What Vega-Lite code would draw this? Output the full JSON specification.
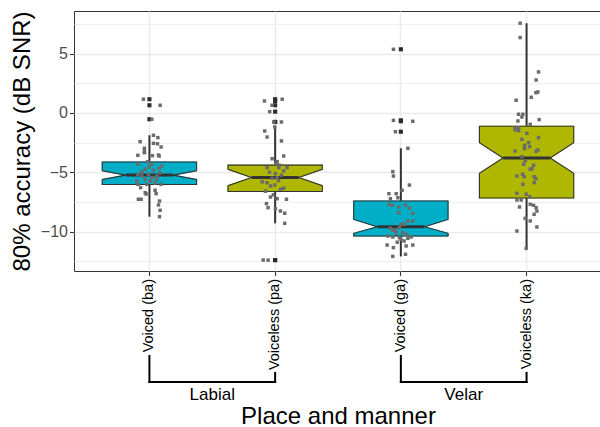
{
  "$schema": "https://vega.github.io/schema/vega-lite/v6.json",
  "padding": {"left": 9, "top": 10, "right": 0, "bottom": 0},
  "bounds": "flush",
  "spacing": 85,
  "config": {
    "font": "Liberation Sans",
    "view": {"stroke": null},
    "axis": {"labelFont": "Liberation Sans", "titleFont": "Liberation Sans", "titleFontWeight": "normal"}
  },
  "datasets": {
    "boxes": [
      {"c": "Voiced (ba)", "q3": -4.14, "nhi": -4.87, "med": -5.24, "nlo": -5.61, "q1": -6.03, "whi": -1.88, "wlo": -8.75},
      {"c": "Voiceless (pa)", "q3": -4.4, "nhi": -4.75, "med": -5.45, "nlo": -6.13, "q1": -6.62, "whi": -1.18, "wlo": -9.31},
      {"c": "Voiced (ga)", "q3": -7.43, "nhi": -8.98, "med": -9.6, "nlo": -10.15, "q1": -10.38, "whi": -2.98, "wlo": -12.1},
      {"c": "Voiceless (ka)", "q3": -1.12, "nhi": -2.5, "med": -3.8, "nlo": -5.08, "q1": -7.17, "whi": 7.57, "wlo": -11.42}
    ],
    "pts": [
      {"c": "Voiced (ba)", "v": 1.16, "j": -0.048}, {"c": "Voiced (ba)", "v": 0.65, "j": 0.085}, {"c": "Voiced (ba)", "v": -0.53, "j": 0.019},
      {"c": "Voiced (ba)", "v": -1.88, "j": 0.032}, {"c": "Voiced (ba)", "v": -2.08, "j": 0.067}, {"c": "Voiced (ba)", "v": -2.42, "j": -0.074},
      {"c": "Voiced (ba)", "v": -2.56, "j": 0.032}, {"c": "Voiced (ba)", "v": -2.6, "j": 0.064}, {"c": "Voiced (ba)", "v": -2.87, "j": 0.093},
      {"c": "Voiced (ba)", "v": -2.98, "j": -0.04}, {"c": "Voiced (ba)", "v": -3.26, "j": -0.04}, {"c": "Voiced (ba)", "v": -3.57, "j": -0.092},
      {"c": "Voiced (ba)", "v": -3.55, "j": 0.072}, {"c": "Voiced (ba)", "v": -3.35, "j": -0.04}, {"c": "Voiced (ba)", "v": -3.6, "j": 0.024},
      {"c": "Voiced (ba)", "v": -3.63, "j": 0.077}, {"c": "Voiced (ba)", "v": -4.33, "j": -0.092}, {"c": "Voiced (ba)", "v": -4.11, "j": -0.013},
      {"c": "Voiced (ba)", "v": -4.33, "j": 0.019}, {"c": "Voiced (ba)", "v": -4.47, "j": 0.099}, {"c": "Voiced (ba)", "v": -4.75, "j": -0.034},
      {"c": "Voiced (ba)", "v": -4.84, "j": 0.032}, {"c": "Voiced (ba)", "v": -4.67, "j": 0.077}, {"c": "Voiced (ba)", "v": -5.17, "j": -0.092},
      {"c": "Voiced (ba)", "v": -5.32, "j": -0.06}, {"c": "Voiced (ba)", "v": -5.17, "j": -0.008}, {"c": "Voiced (ba)", "v": -5.32, "j": 0.059},
      {"c": "Voiced (ba)", "v": -5.04, "j": 0.085}, {"c": "Voiced (ba)", "v": -5.74, "j": -0.1}, {"c": "Voiced (ba)", "v": -5.6, "j": -0.034},
      {"c": "Voiced (ba)", "v": -5.74, "j": 0.006}, {"c": "Voiced (ba)", "v": -5.6, "j": 0.059}, {"c": "Voiced (ba)", "v": -6.02, "j": -0.092},
      {"c": "Voiced (ba)", "v": -6.02, "j": -0.021}, {"c": "Voiced (ba)", "v": -6.02, "j": 0.093}, {"c": "Voiced (ba)", "v": -6.72, "j": -0.034},
      {"c": "Voiced (ba)", "v": -6.84, "j": -0.026}, {"c": "Voiced (ba)", "v": -6.52, "j": 0.045}, {"c": "Voiced (ba)", "v": -6.81, "j": 0.053},
      {"c": "Voiced (ba)", "v": -7.28, "j": -0.088}, {"c": "Voiced (ba)", "v": -7.28, "j": -0.066}, {"c": "Voiced (ba)", "v": -7.43, "j": 0.08},
      {"c": "Voiced (ba)", "v": -7.76, "j": 0.072}, {"c": "Voiced (ba)", "v": -8.21, "j": 0.085}, {"c": "Voiced (ba)", "v": -8.75, "j": 0.08},
      {"c": "Voiced (ba)", "v": -4.95, "j": -0.058}, {"c": "Voiced (ba)", "v": -5.45, "j": 0.021}, {"c": "Voiced (ba)", "v": -4.55, "j": -0.002},
      {"c": "Voiced (ba)", "v": -5.9, "j": 0.045}, {"c": "Voiced (ba)", "v": -6.3, "j": -0.07},

      {"c": "Voiceless (pa)", "v": 1.01, "j": -0.085}, {"c": "Voiceless (pa)", "v": 1.16, "j": 0.056}, {"c": "Voiceless (pa)", "v": 0.65, "j": -0.024},
      {"c": "Voiceless (pa)", "v": 0.11, "j": -0.043}, {"c": "Voiceless (pa)", "v": -0.76, "j": -0.011}, {"c": "Voiceless (pa)", "v": -0.76, "j": 0.05},
      {"c": "Voiceless (pa)", "v": -1.18, "j": -0.003}, {"c": "Voiceless (pa)", "v": -1.52, "j": -0.083}, {"c": "Voiceless (pa)", "v": -2.03, "j": -0.064},
      {"c": "Voiceless (pa)", "v": -2.36, "j": 0.05}, {"c": "Voiceless (pa)", "v": -3.86, "j": -0.024}, {"c": "Voiceless (pa)", "v": -3.63, "j": 0.068},
      {"c": "Voiceless (pa)", "v": -4.1, "j": 0.016}, {"c": "Voiceless (pa)", "v": -4.61, "j": -0.064}, {"c": "Voiceless (pa)", "v": -4.27, "j": 0.008},
      {"c": "Voiceless (pa)", "v": -4.61, "j": 0.029}, {"c": "Voiceless (pa)", "v": -4.89, "j": 0.068}, {"c": "Voiceless (pa)", "v": -4.61, "j": 0.095},
      {"c": "Voiceless (pa)", "v": -5.12, "j": 0.002}, {"c": "Voiceless (pa)", "v": -5.8, "j": -0.103}, {"c": "Voiceless (pa)", "v": -5.88, "j": -0.064},
      {"c": "Voiceless (pa)", "v": -5.51, "j": -0.024}, {"c": "Voiceless (pa)", "v": -5.46, "j": 0.016}, {"c": "Voiceless (pa)", "v": -6.16, "j": -0.037},
      {"c": "Voiceless (pa)", "v": -6.08, "j": -0.003}, {"c": "Voiceless (pa)", "v": -6.44, "j": 0.042}, {"c": "Voiceless (pa)", "v": -6.35, "j": 0.068},
      {"c": "Voiceless (pa)", "v": -7.09, "j": -0.037}, {"c": "Voiceless (pa)", "v": -7.23, "j": 0.016}, {"c": "Voiceless (pa)", "v": -7.28, "j": 0.09},
      {"c": "Voiceless (pa)", "v": -7.65, "j": -0.069}, {"c": "Voiceless (pa)", "v": -7.99, "j": -0.056}, {"c": "Voiceless (pa)", "v": -8.08, "j": 0.002},
      {"c": "Voiceless (pa)", "v": -8.27, "j": 0.042}, {"c": "Voiceless (pa)", "v": -8.46, "j": 0.076}, {"c": "Voiceless (pa)", "v": -9.31, "j": 0.076},
      {"c": "Voiceless (pa)", "v": -12.41, "j": -0.095}, {"c": "Voiceless (pa)", "v": -12.41, "j": -0.056}, {"c": "Voiceless (pa)", "v": -4.4, "j": 0.034},
      {"c": "Voiceless (pa)", "v": -5.0, "j": -0.045}, {"c": "Voiceless (pa)", "v": -5.7, "j": 0.026}, {"c": "Voiceless (pa)", "v": -6.6, "j": -0.077},
      {"c": "Voiceless (pa)", "v": -6.9, "j": -0.014}, {"c": "Voiceless (pa)", "v": -5.25, "j": 0.05},

      {"c": "Voiced (ga)", "v": 5.37, "j": -0.059}, {"c": "Voiced (ga)", "v": -0.62, "j": -0.059}, {"c": "Voiced (ga)", "v": -0.7, "j": 0.095},
      {"c": "Voiced (ga)", "v": -1.58, "j": -0.043}, {"c": "Voiced (ga)", "v": -2.98, "j": 0.056}, {"c": "Voiced (ga)", "v": -4.95, "j": -0.064},
      {"c": "Voiced (ga)", "v": -5.32, "j": -0.059}, {"c": "Voiced (ga)", "v": -6.08, "j": 0.068}, {"c": "Voiced (ga)", "v": -6.81, "j": -0.095},
      {"c": "Voiced (ga)", "v": -6.81, "j": -0.037}, {"c": "Voiced (ga)", "v": -6.52, "j": 0.01}, {"c": "Voiced (ga)", "v": -7.23, "j": -0.083},
      {"c": "Voiced (ga)", "v": -7.15, "j": -0.024}, {"c": "Voiced (ga)", "v": -7.7, "j": -0.095}, {"c": "Voiced (ga)", "v": -7.79, "j": -0.069},
      {"c": "Voiced (ga)", "v": -7.93, "j": -0.016}, {"c": "Voiced (ga)", "v": -8.41, "j": -0.016}, {"c": "Voiced (ga)", "v": -7.76, "j": 0.037},
      {"c": "Voiced (ga)", "v": -8.04, "j": 0.068}, {"c": "Voiced (ga)", "v": -8.46, "j": 0.095}, {"c": "Voiced (ga)", "v": -9.11, "j": 0.056},
      {"c": "Voiced (ga)", "v": -9.11, "j": 0.095}, {"c": "Voiced (ga)", "v": -9.39, "j": 0.002}, {"c": "Voiced (ga)", "v": -9.39, "j": 0.029},
      {"c": "Voiced (ga)", "v": -9.73, "j": -0.083}, {"c": "Voiced (ga)", "v": -9.87, "j": -0.064}, {"c": "Voiced (ga)", "v": -9.68, "j": -0.011},
      {"c": "Voiced (ga)", "v": -10.1, "j": -0.037}, {"c": "Voiced (ga)", "v": -10.1, "j": 0.016}, {"c": "Voiced (ga)", "v": -10.24, "j": 0.042},
      {"c": "Voiced (ga)", "v": -10.38, "j": -0.103}, {"c": "Voiced (ga)", "v": -10.46, "j": -0.064}, {"c": "Voiced (ga)", "v": -10.52, "j": -0.011},
      {"c": "Voiced (ga)", "v": -10.66, "j": 0.002}, {"c": "Voiced (ga)", "v": -10.58, "j": 0.056}, {"c": "Voiced (ga)", "v": -10.46, "j": 0.082},
      {"c": "Voiced (ga)", "v": -11.14, "j": -0.109}, {"c": "Voiced (ga)", "v": -11.36, "j": -0.059}, {"c": "Voiced (ga)", "v": -11.22, "j": 0.042},
      {"c": "Voiced (ga)", "v": -11.14, "j": 0.095}, {"c": "Voiced (ga)", "v": -12.1, "j": -0.064}, {"c": "Voiced (ga)", "v": -11.92, "j": 0.037},
      {"c": "Voiced (ga)", "v": -9.9, "j": -0.045}, {"c": "Voiced (ga)", "v": -10.8, "j": 0.026}, {"c": "Voiced (ga)", "v": -10.9, "j": -0.029},

      {"c": "Voiceless (ka)", "v": 7.57, "j": -0.051}, {"c": "Voiceless (ka)", "v": 6.36, "j": -0.051}, {"c": "Voiceless (ka)", "v": 3.46, "j": 0.095},
      {"c": "Voiceless (ka)", "v": 2.78, "j": 0.076}, {"c": "Voiceless (ka)", "v": 1.77, "j": 0.09}, {"c": "Voiceless (ka)", "v": 1.71, "j": 0.074},
      {"c": "Voiceless (ka)", "v": 1.32, "j": 0.037}, {"c": "Voiceless (ka)", "v": 1.07, "j": -0.083}, {"c": "Voiceless (ka)", "v": -0.11, "j": -0.064},
      {"c": "Voiceless (ka)", "v": -0.11, "j": -0.029}, {"c": "Voiceless (ka)", "v": -0.34, "j": -0.037}, {"c": "Voiceless (ka)", "v": -0.68, "j": -0.069},
      {"c": "Voiceless (ka)", "v": -0.96, "j": 0.029}, {"c": "Voiceless (ka)", "v": -0.56, "j": 0.1}, {"c": "Voiceless (ka)", "v": -1.29, "j": -0.091},
      {"c": "Voiceless (ka)", "v": -1.24, "j": -0.064}, {"c": "Voiceless (ka)", "v": -1.43, "j": -0.091}, {"c": "Voiceless (ka)", "v": -1.5, "j": -0.064},
      {"c": "Voiceless (ka)", "v": -1.72, "j": 0.002}, {"c": "Voiceless (ka)", "v": -2.08, "j": 0.095}, {"c": "Voiceless (ka)", "v": -2.22, "j": -0.037},
      {"c": "Voiceless (ka)", "v": -2.5, "j": 0.016}, {"c": "Voiceless (ka)", "v": -2.84, "j": 0.024}, {"c": "Voiceless (ka)", "v": -2.73, "j": -0.016},
      {"c": "Voiceless (ka)", "v": -3.01, "j": -0.016}, {"c": "Voiceless (ka)", "v": -3.12, "j": 0.09}, {"c": "Voiceless (ka)", "v": -3.23, "j": 0.076},
      {"c": "Voiceless (ka)", "v": -3.21, "j": -0.091}, {"c": "Voiceless (ka)", "v": -3.69, "j": -0.037}, {"c": "Voiceless (ka)", "v": -4.05, "j": -0.011},
      {"c": "Voiceless (ka)", "v": -4.33, "j": -0.024}, {"c": "Voiceless (ka)", "v": -4.41, "j": 0.056}, {"c": "Voiceless (ka)", "v": -4.75, "j": 0.029},
      {"c": "Voiceless (ka)", "v": -4.7, "j": 0.042}, {"c": "Voiceless (ka)", "v": -5.32, "j": -0.077}, {"c": "Voiceless (ka)", "v": -5.17, "j": -0.032},
      {"c": "Voiceless (ka)", "v": -5.38, "j": -0.019}, {"c": "Voiceless (ka)", "v": -5.38, "j": 0.06}, {"c": "Voiceless (ka)", "v": -5.54, "j": 0.074},
      {"c": "Voiceless (ka)", "v": -5.88, "j": 0.06}, {"c": "Voiceless (ka)", "v": -6.02, "j": -0.029}, {"c": "Voiceless (ka)", "v": -6.78, "j": -0.077},
      {"c": "Voiceless (ka)", "v": -6.86, "j": -0.003}, {"c": "Voiceless (ka)", "v": -7.34, "j": -0.077}, {"c": "Voiceless (ka)", "v": -7.34, "j": -0.043},
      {"c": "Voiceless (ka)", "v": -7.06, "j": 0.024}, {"c": "Voiceless (ka)", "v": -7.7, "j": 0.029}, {"c": "Voiceless (ka)", "v": -7.79, "j": 0.056},
      {"c": "Voiceless (ka)", "v": -7.99, "j": 0.076}, {"c": "Voiceless (ka)", "v": -8.27, "j": 0.082}, {"c": "Voiceless (ka)", "v": -7.93, "j": -0.056},
      {"c": "Voiceless (ka)", "v": -8.55, "j": 0.06}, {"c": "Voiceless (ka)", "v": -8.89, "j": -0.011}, {"c": "Voiceless (ka)", "v": -9.11, "j": 0.029},
      {"c": "Voiceless (ka)", "v": -9.96, "j": -0.077}, {"c": "Voiceless (ka)", "v": -9.62, "j": 0.082}, {"c": "Voiceless (ka)", "v": -11.42, "j": -0.003}
    ]
  },
  "vconcat": [
    {
      "width": 528,
      "height": 260,
      "view": {"stroke": "#333333", "strokeWidth": 1},
      "resolve": {"scale": {"xOffset": "independent"}, "axis": {"y": "independent"}},
      "layer": [
        {
          "data": {"name": "boxes"},
          "mark": {"type": "rule", "color": "#333333", "strokeWidth": 2},
          "encoding": {
            "x": {
              "field": "c", "type": "nominal", "title": null,
              "scale": {"domain": ["Voiced (ba)", "Voiceless (pa)", "Voiced (ga)", "Voiceless (ka)"], "paddingInner": 0, "paddingOuter": 0.1},
              "axis": {
                "labelAngle": -90, "labelFontSize": 14.5, "labelColor": "#000000", "labelPadding": 3, "labelLimit": 0,
                "tickSize": 4.5, "tickColor": "#333333", "tickWidth": 1.1, "domain": false,
                "grid": true, "gridColor": "#EBEBEB", "gridWidth": 1.5, "bandPosition": 0.5
              }
            },
            "y": {
              "field": "wlo", "type": "quantitative", "title": null,
              "scale": {"domain": [-13.33, 8.6], "nice": false, "zero": false},
              "axis": {
                "orient": "left", "values": [-12.5, -7.5, -2.5, 2.5, 7.5],
                "labels": false, "ticks": false, "domain": false, "title": null,
                "grid": true, "gridColor": "#EDEDED", "gridWidth": 0.9
              }
            },
            "y2": {"field": "whi"}
          }
        },
        {
          "data": {"name": "pts"},
          "transform": [
            {"lookup": "c", "from": {"data": {"name": "boxes"}, "key": "c", "fields": ["wlo", "whi"]}},
            {"filter": "datum.v > datum.whi || datum.v < datum.wlo"}
          ],
          "mark": {"type": "point", "shape": "square", "filled": true, "size": 17, "color": "#2b2b2b", "opacity": 1},
          "encoding": {
            "x": {"field": "c", "type": "nominal", "title": null},
            "y": {
              "field": "v", "type": "quantitative", "title": "80% accuracy (dB SNR)",
              "axis": {
                "orient": "left", "values": [-10, -5, 0, 5],
                "labelFontSize": 16, "labelColor": "#4D4D4D", "labelPadding": 2,
                "tickSize": 4.5, "tickColor": "#333333", "tickWidth": 1.1,
                "domain": false, "grid": true, "gridColor": "#EBEBEB", "gridWidth": 1.5,
                "titleFontSize": 24, "titleColor": "#000000", "titlePadding": 6
              }
            }
          }
        },
        {
          "data": {"name": "boxes"},
          "transform": [
            {"fold": ["q3", "nhi", "med", "nlo", "q1"], "as": ["k", "s"]},
            {"window": [{"op": "row_number", "as": "r"}], "groupby": ["c"], "sort": [{"field": "s", "order": "descending"}]}
          ],
          "mark": {"type": "area", "orient": "horizontal", "strokeWidth": 1},
          "encoding": {
            "x": {"field": "c", "type": "nominal", "title": null},
            "xOffset": {"field": "r", "type": "quantitative", "scale": {"domain": [1, 2, 3, 4, 5], "range": [15.71, 15.71, 39.29, 15.71, 15.71], "zero": false, "nice": false}},
            "x2": {"field": "c", "bandPosition": 0.5},
            "y": {"field": "s", "type": "quantitative", "axis": null},
            "color": {"field": "c", "type": "nominal", "legend": null, "scale": {"domain": ["Voiced (ba)", "Voiceless (pa)", "Voiced (ga)", "Voiceless (ka)"], "range": ["#00AEC7", "#AFB700", "#00AEC7", "#AFB700"]}},
            "stroke": {"field": "c", "type": "nominal", "legend": null, "scale": {"domain": ["Voiced (ba)", "Voiceless (pa)", "Voiced (ga)", "Voiceless (ka)"], "range": ["#00AEC7", "#AFB700", "#00AEC7", "#AFB700"]}}
          }
        },
        {
          "data": {"name": "boxes"},
          "transform": [
            {"fold": ["q3", "nhi", "med", "nlo", "q1"], "as": ["k", "s"]},
            {"window": [{"op": "row_number", "as": "r"}], "groupby": ["c"], "sort": [{"field": "s", "order": "descending"}]}
          ],
          "mark": {"type": "area", "orient": "horizontal", "strokeWidth": 1},
          "encoding": {
            "x": {"field": "c", "type": "nominal", "title": null},
            "xOffset": {"field": "r", "type": "quantitative", "scale": {"domain": [1, 2, 3, 4, 5], "range": [110.0, 110.0, 86.43, 110.0, 110.0], "zero": false, "nice": false}},
            "x2": {"field": "c", "bandPosition": 0.5},
            "y": {"field": "s", "type": "quantitative", "axis": null},
            "color": {"field": "c", "type": "nominal", "legend": null, "scale": {"domain": ["Voiced (ba)", "Voiceless (pa)", "Voiced (ga)", "Voiceless (ka)"], "range": ["#00AEC7", "#AFB700", "#00AEC7", "#AFB700"]}},
            "stroke": {"field": "c", "type": "nominal", "legend": null, "scale": {"domain": ["Voiced (ba)", "Voiceless (pa)", "Voiced (ga)", "Voiceless (ka)"], "range": ["#00AEC7", "#AFB700", "#00AEC7", "#AFB700"]}}
          }
        },
        {
          "data": {"name": "boxes"},
          "transform": [
            {"fold": ["q3", "nhi", "med", "nlo", "q1"], "as": ["k", "s"]},
            {"window": [{"op": "row_number", "as": "r"}], "groupby": ["c"], "sort": [{"field": "s", "order": "descending"}]}
          ],
          "mark": {"type": "line", "color": "#333333", "strokeWidth": 1.1},
          "encoding": {
            "x": {"field": "c", "type": "nominal", "title": null},
            "xOffset": {"field": "r", "type": "quantitative", "scale": {"domain": [1, 2, 3, 4, 5], "range": [15.71, 15.71, 39.29, 15.71, 15.71], "zero": false, "nice": false}},
            "y": {"field": "s", "type": "quantitative", "axis": null},
            "detail": {"field": "c"},
            "order": {"field": "r"}
          }
        },
        {
          "data": {"name": "boxes"},
          "transform": [
            {"fold": ["q3", "nhi", "med", "nlo", "q1"], "as": ["k", "s"]},
            {"window": [{"op": "row_number", "as": "r"}], "groupby": ["c"], "sort": [{"field": "s", "order": "descending"}]}
          ],
          "mark": {"type": "line", "color": "#333333", "strokeWidth": 1.1},
          "encoding": {
            "x": {"field": "c", "type": "nominal", "title": null},
            "xOffset": {"field": "r", "type": "quantitative", "scale": {"domain": [1, 2, 3, 4, 5], "range": [110.0, 110.0, 86.43, 110.0, 110.0], "zero": false, "nice": false}},
            "y": {"field": "s", "type": "quantitative", "axis": null},
            "detail": {"field": "c"},
            "order": {"field": "r"}
          }
        },
        {
          "data": {"name": "boxes"},
          "transform": [{"fold": ["q3", "q1"], "as": ["k", "s"]}],
          "mark": {"type": "tick", "color": "#333333", "size": 95.4, "thickness": 1.1, "opacity": 1},
          "encoding": {
            "x": {"field": "c", "type": "nominal", "title": null},
            "y": {"field": "s", "type": "quantitative", "axis": null}
          }
        },
        {
          "data": {"name": "boxes"},
          "mark": {"type": "tick", "color": "#333333", "size": 47.1, "thickness": 3, "opacity": 1},
          "encoding": {
            "x": {"field": "c", "type": "nominal", "title": null},
            "y": {"field": "med", "type": "quantitative", "axis": null}
          }
        },
        {
          "data": {"name": "pts"},
          "mark": {"type": "point", "shape": "square", "filled": true, "size": 12, "color": "#6B6B6B", "opacity": 1},
          "encoding": {
            "x": {"field": "c", "type": "nominal", "title": null},
            "xOffset": {"field": "j", "type": "quantitative", "scale": {"domain": [-0.5, 0.5], "zero": false, "nice": false}},
            "y": {"field": "v", "type": "quantitative", "axis": null}
          }
        }
      ]
    },
    {
      "width": 528,
      "height": 26,
      "data": {"values": [{"grp": "Labial"}, {"grp": "Velar"}]},
      "layer": [
        {
          "mark": {"type": "rule", "color": "#000000", "strokeWidth": 2, "strokeCap": "square"},
          "encoding": {
            "x": {
              "field": "grp", "type": "nominal", "bandPosition": 0.25, "title": "Place and manner",
              "scale": {"domain": ["Labial", "Velar"], "paddingInner": 0, "paddingOuter": 0.05},
              "axis": {"labelAngle": 0, "labelFontSize": 17, "labelColor": "#000000", "labelPadding": 4, "ticks": false, "domain": false, "grid": false, "titleFontSize": 24, "titleColor": "#000000", "titlePadding": 2, "bandPosition": 0.5}
            },
            "x2": {"field": "grp", "bandPosition": 0.75},
            "y": {"datum": 0, "type": "quantitative", "scale": {"domain": [0, 1]}, "axis": null}
          }
        },
        {
          "mark": {"type": "rule", "color": "#000000", "strokeWidth": 2, "strokeCap": "square"},
          "encoding": {
            "x": {"field": "grp", "type": "nominal", "bandPosition": 0.25, "title": "Place and manner"},
            "y": {"datum": 0, "type": "quantitative"},
            "y2": {"datum": 1}
          }
        },
        {
          "mark": {"type": "rule", "color": "#000000", "strokeWidth": 2, "strokeCap": "square"},
          "encoding": {
            "x": {"field": "grp", "type": "nominal", "bandPosition": 0.75, "title": "Place and manner"},
            "y": {"datum": 0, "type": "quantitative"},
            "y2": {"datum": 0.35}
          }
        }
      ]
    }
  ]
}
